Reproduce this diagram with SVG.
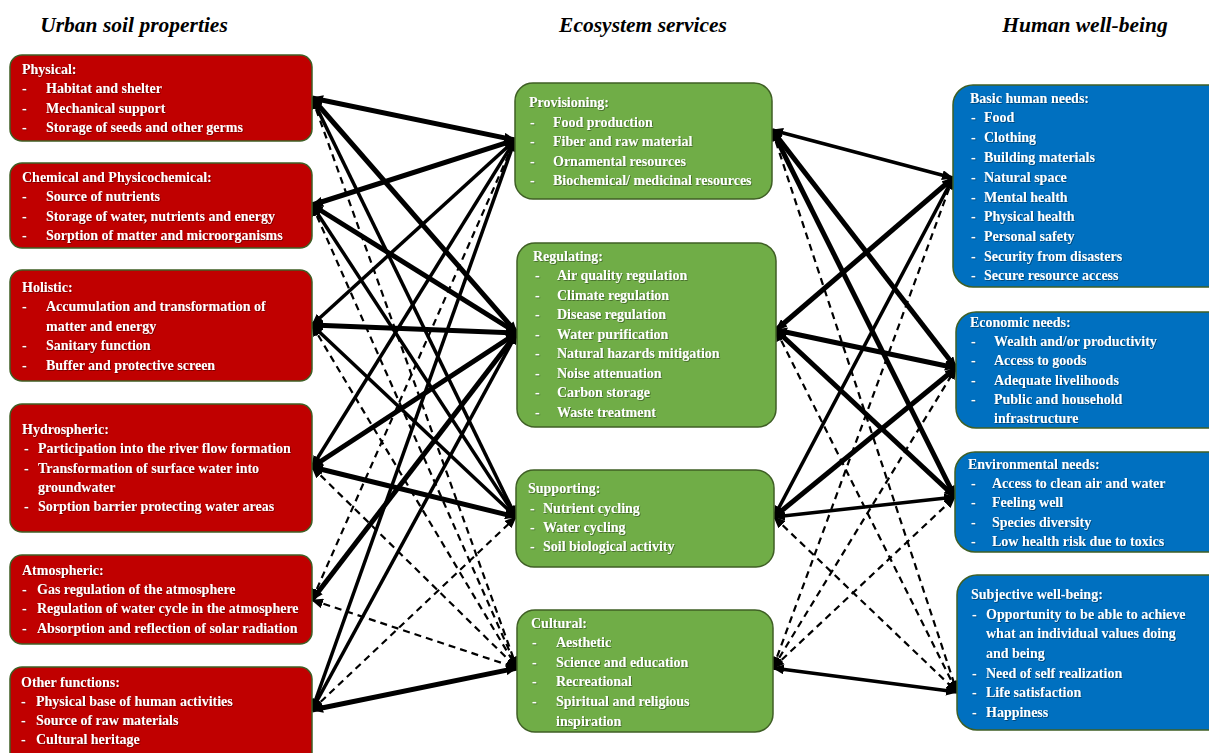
<svg xmlns="http://www.w3.org/2000/svg" width="1209" height="753" viewBox="0 0 1209 753">
<style>
.title{font-family:"Liberation Serif",serif;font-weight:bold;font-style:italic;font-size:21.5px;fill:#000;text-anchor:middle}
.t{font-family:"Liberation Serif",serif;font-weight:bold;font-size:14px;fill:#fff;filter:url(#sh)}
.red{fill:#c00000;stroke:#3f5f25;stroke-width:1.5}
.green{fill:#70ad47;stroke:#3f5f25;stroke-width:1.5}
.blue{fill:#0070c0;stroke:#3f5f25;stroke-width:1.5}
.c{stroke:#000;fill:none;marker-start:url(#ah);marker-end:url(#ah)}
.T{stroke-width:5}
.S{stroke-width:3.5}
.D{stroke-width:2.2;stroke-dasharray:7 5}
</style>
<defs>
<marker id="ah" viewBox="0 0 12 10" refX="11" refY="5" markerWidth="12" markerHeight="10" markerUnits="userSpaceOnUse" orient="auto-start-reverse">
<path d="M0,0 L12,5 L0,10 z" fill="#000"/>
</marker>
<filter id="sh" x="-5%" y="-20%" width="110%" height="150%">
<feDropShadow dx="0.8" dy="0.8" stdDeviation="0.6" flood-color="#000" flood-opacity="0.45"/>
</filter>
</defs>
<rect width="1209" height="753" fill="#fff"/>
<text class="title" x="134" y="32">Urban soil properties</text>
<text class="title" x="643" y="32">Ecosystem services</text>
<text class="title" x="1085" y="32">Human well-being</text>

<g id="connectors">
<line class="c T" x1="312" y1="98" x2="515" y2="140"/>
<line class="c T" x1="312" y1="98" x2="517" y2="333"/>
<line class="c S" x1="312" y1="98" x2="516" y2="517"/>
<line class="c D" x1="312" y1="98" x2="517" y2="668"/>
<line class="c T" x1="312" y1="205" x2="515" y2="140"/>
<line class="c T" x1="312" y1="205" x2="517" y2="333"/>
<line class="c S" x1="312" y1="205" x2="516" y2="517"/>
<line class="c D" x1="312" y1="205" x2="517" y2="668"/>
<line class="c S" x1="312" y1="325" x2="515" y2="140"/>
<line class="c T" x1="312" y1="325" x2="517" y2="333"/>
<line class="c S" x1="312" y1="325" x2="516" y2="517"/>
<line class="c D" x1="312" y1="325" x2="517" y2="668"/>
<line class="c S" x1="312" y1="467" x2="515" y2="140"/>
<line class="c T" x1="312" y1="467" x2="517" y2="333"/>
<line class="c T" x1="312" y1="467" x2="516" y2="517"/>
<line class="c D" x1="312" y1="467" x2="517" y2="668"/>
<line class="c D" x1="312" y1="600" x2="515" y2="140"/>
<line class="c T" x1="312" y1="600" x2="517" y2="333"/>
<line class="c D" x1="312" y1="600" x2="517" y2="668"/>
<line class="c S" x1="312" y1="710" x2="515" y2="140"/>
<line class="c S" x1="312" y1="710" x2="517" y2="333"/>
<line class="c D" x1="312" y1="710" x2="516" y2="517"/>
<line class="c T" x1="312" y1="710" x2="517" y2="668"/>

<line class="c S" x1="772" y1="130" x2="953" y2="178"/>
<line class="c T" x1="772" y1="130" x2="956" y2="368"/>
<line class="c T" x1="772" y1="130" x2="955" y2="497"/>
<line class="c D" x1="772" y1="130" x2="957" y2="692"/>
<line class="c T" x1="776" y1="330" x2="953" y2="178"/>
<line class="c T" x1="776" y1="330" x2="956" y2="368"/>
<line class="c T" x1="776" y1="330" x2="955" y2="497"/>
<line class="c D" x1="776" y1="330" x2="957" y2="692"/>
<line class="c S" x1="774" y1="517" x2="953" y2="178"/>
<line class="c T" x1="774" y1="517" x2="956" y2="368"/>
<line class="c S" x1="774" y1="517" x2="955" y2="497"/>
<line class="c D" x1="774" y1="517" x2="957" y2="692"/>
<line class="c D" x1="773" y1="668" x2="953" y2="178"/>
<line class="c D" x1="773" y1="668" x2="956" y2="368"/>
<line class="c D" x1="773" y1="668" x2="955" y2="497"/>
<line class="c S" x1="773" y1="668" x2="957" y2="692"/>
</g>

<g id="physical">
<rect class="red" x="10" y="55" width="302" height="86" rx="12"/>
<text class="t" x="22" y="74">Physical:</text>
<text class="t" x="22" y="93">-</text><text class="t" x="46" y="93">Habitat and shelter</text>
<text class="t" x="22" y="113">-</text><text class="t" x="46" y="113">Mechanical support</text>
<text class="t" x="22" y="132">-</text><text class="t" x="46" y="132">Storage of seeds and other germs</text>
</g>
<g id="chemical">
<rect class="red" x="10" y="163" width="302" height="85" rx="12"/>
<text class="t" x="22" y="182">Chemical and Physicochemical:</text>
<text class="t" x="22" y="201">-</text><text class="t" x="46" y="201">Source of nutrients</text>
<text class="t" x="22" y="221">-</text><text class="t" x="46" y="221">Storage of water, nutrients and energy</text>
<text class="t" x="22" y="240">-</text><text class="t" x="46" y="240">Sorption of matter and microorganisms</text>
</g>
<g id="holistic">
<rect class="red" x="10" y="270" width="302" height="111" rx="12"/>
<text class="t" x="22" y="292">Holistic:</text>
<text class="t" x="22" y="311">-</text><text class="t" x="46" y="311">Accumulation and transformation of</text>
<text class="t" x="46" y="331">matter and energy</text>
<text class="t" x="22" y="350">-</text><text class="t" x="46" y="350">Sanitary function</text>
<text class="t" x="22" y="370">-</text><text class="t" x="46" y="370">Buffer and protective screen</text>
</g>
<g id="hydrospheric">
<rect class="red" x="10" y="404" width="302" height="128" rx="12"/>
<text class="t" x="22" y="434">Hydrospheric:</text>
<text class="t" x="24" y="453">-</text><text class="t" x="38" y="453">Participation into the river flow formation</text>
<text class="t" x="24" y="473">-</text><text class="t" x="38" y="473">Transformation of surface water into</text>
<text class="t" x="38" y="492">groundwater</text>
<text class="t" x="24" y="511">-</text><text class="t" x="38" y="511">Sorption barrier protecting water areas</text>
</g>
<g id="atmospheric">
<rect class="red" x="10" y="555" width="302" height="89" rx="12"/>
<text class="t" x="22" y="575">Atmospheric:</text>
<text class="t" x="22" y="594">-</text><text class="t" x="37" y="594">Gas regulation of the atmosphere</text>
<text class="t" x="22" y="613">-</text><text class="t" x="37" y="613">Regulation of water cycle in the atmosphere</text>
<text class="t" x="22" y="633">-</text><text class="t" x="37" y="633">Absorption and reflection of solar radiation</text>
</g>
<g id="other">
<rect class="red" x="10" y="667" width="302" height="100" rx="12"/>
<text class="t" x="21" y="687">Other functions:</text>
<text class="t" x="21" y="706">-</text><text class="t" x="36" y="706">Physical base of human activities</text>
<text class="t" x="21" y="725">-</text><text class="t" x="36" y="725">Source of raw materials</text>
<text class="t" x="21" y="744">-</text><text class="t" x="36" y="744">Cultural heritage</text>
</g>

<g id="provisioning">
<rect class="green" x="515" y="83" width="257" height="116" rx="18"/>
<text class="t" x="529" y="107">Provisioning:</text>
<text class="t" x="530" y="127">-</text><text class="t" x="553" y="127">Food production</text>
<text class="t" x="530" y="146">-</text><text class="t" x="553" y="146">Fiber and raw material</text>
<text class="t" x="530" y="166">-</text><text class="t" x="553" y="166">Ornamental resources</text>
<text class="t" x="530" y="185">-</text><text class="t" x="553" y="185">Biochemical/ medicinal resources</text>
</g>
<g id="regulating">
<rect class="green" x="517" y="243" width="259" height="184" rx="18"/>
<text class="t" x="533" y="261">Regulating:</text>
<text class="t" x="535" y="280">-</text><text class="t" x="557" y="280">Air quality regulation</text>
<text class="t" x="535" y="300">-</text><text class="t" x="557" y="300">Climate regulation</text>
<text class="t" x="535" y="319">-</text><text class="t" x="557" y="319">Disease regulation</text>
<text class="t" x="535" y="339">-</text><text class="t" x="557" y="339">Water purification</text>
<text class="t" x="535" y="358">-</text><text class="t" x="557" y="358">Natural hazards mitigation</text>
<text class="t" x="535" y="378">-</text><text class="t" x="557" y="378">Noise attenuation</text>
<text class="t" x="535" y="397">-</text><text class="t" x="557" y="397">Carbon storage</text>
<text class="t" x="535" y="417">-</text><text class="t" x="557" y="417">Waste treatment</text>
</g>
<g id="supporting">
<rect class="green" x="516" y="470" width="258" height="97" rx="18"/>
<text class="t" x="528" y="493">Supporting:</text>
<text class="t" x="530" y="513">-</text><text class="t" x="543" y="513">Nutrient cycling</text>
<text class="t" x="530" y="532">-</text><text class="t" x="543" y="532">Water cycling</text>
<text class="t" x="530" y="551">-</text><text class="t" x="543" y="551">Soil biological activity</text>
</g>
<g id="cultural">
<rect class="green" x="517" y="610" width="256" height="122" rx="18"/>
<text class="t" x="531" y="628">Cultural:</text>
<text class="t" x="532" y="647">-</text><text class="t" x="556" y="647">Aesthetic</text>
<text class="t" x="532" y="667">-</text><text class="t" x="556" y="667">Science and education</text>
<text class="t" x="532" y="686">-</text><text class="t" x="556" y="686">Recreational</text>
<text class="t" x="532" y="706">-</text><text class="t" x="556" y="706">Spiritual and religious</text>
<text class="t" x="556" y="726">inspiration</text>
</g>

<g id="basic">
<rect class="blue" x="953" y="85" width="275" height="202" rx="20"/>
<text class="t" x="970" y="103">Basic human needs:</text>
<text class="t" x="971" y="122">-</text><text class="t" x="984" y="122">Food</text>
<text class="t" x="971" y="142">-</text><text class="t" x="984" y="142">Clothing</text>
<text class="t" x="971" y="162">-</text><text class="t" x="984" y="162">Building materials</text>
<text class="t" x="971" y="182">-</text><text class="t" x="984" y="182">Natural space</text>
<text class="t" x="971" y="202">-</text><text class="t" x="984" y="202">Mental health</text>
<text class="t" x="971" y="221">-</text><text class="t" x="984" y="221">Physical health</text>
<text class="t" x="971" y="241">-</text><text class="t" x="984" y="241">Personal safety</text>
<text class="t" x="971" y="261">-</text><text class="t" x="984" y="261">Security from disasters</text>
<text class="t" x="971" y="280">-</text><text class="t" x="984" y="280">Secure resource access</text>
</g>
<g id="economic">
<rect class="blue" x="956" y="312" width="275" height="116" rx="20"/>
<text class="t" x="970" y="327">Economic needs:</text>
<text class="t" x="971" y="346">-</text><text class="t" x="994" y="346">Wealth and/or productivity</text>
<text class="t" x="971" y="365">-</text><text class="t" x="994" y="365">Access to goods</text>
<text class="t" x="971" y="385">-</text><text class="t" x="994" y="385">Adequate livelihoods</text>
<text class="t" x="971" y="404">-</text><text class="t" x="994" y="404">Public and household</text>
<text class="t" x="994" y="423">infrastructure</text>
</g>
<g id="environmental">
<rect class="blue" x="955" y="452" width="275" height="100" rx="20"/>
<text class="t" x="968" y="469">Environmental needs:</text>
<text class="t" x="971" y="488">-</text><text class="t" x="992" y="488">Access to clean air and water</text>
<text class="t" x="971" y="507">-</text><text class="t" x="992" y="507">Feeling well</text>
<text class="t" x="971" y="527">-</text><text class="t" x="992" y="527">Species diversity</text>
<text class="t" x="971" y="546">-</text><text class="t" x="992" y="546">Low health risk due to toxics</text>
</g>
<g id="subjective">
<rect class="blue" x="957" y="575" width="275" height="155" rx="20"/>
<text class="t" x="971" y="599">Subjective well-being:</text>
<text class="t" x="972" y="619">-</text><text class="t" x="986" y="619">Opportunity to be able to achieve</text>
<text class="t" x="986" y="638">what an individual values doing</text>
<text class="t" x="986" y="658">and being</text>
<text class="t" x="972" y="678">-</text><text class="t" x="986" y="678">Need of self realization</text>
<text class="t" x="972" y="697">-</text><text class="t" x="986" y="697">Life satisfaction</text>
<text class="t" x="972" y="717">-</text><text class="t" x="986" y="717">Happiness</text>
</g>
</svg>
